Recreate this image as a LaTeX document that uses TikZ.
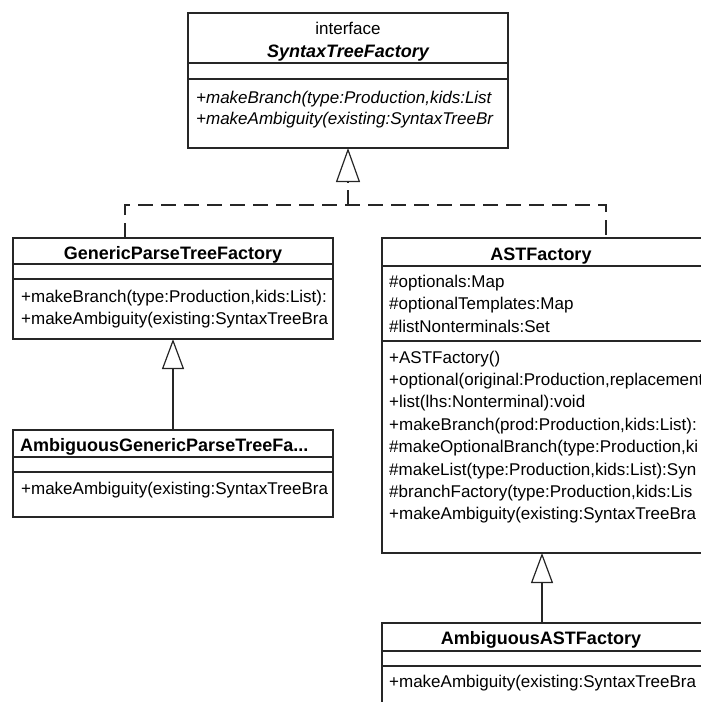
\documentclass[tikz,border=0pt]{standalone}
\usepackage{fontspec}
\setmainfont{Liberation Sans}
\usetikzlibrary{arrows.meta}
\newcommand{\umlsize}{\fontsize{17}{20}\selectfont}
\newcommand{\umltitle}{\fontsize{18}{21}\selectfont\bfseries}
\tikzset{
  classbox/.style={draw=black!85, line width=1.2pt, minimum width=320pt, inner sep=0pt, outer sep=0pt, anchor=north west},
  classname/.style={font=\umltitle, inner sep=0pt, anchor=base},
  member/.style={font=\umlsize, inner sep=0pt, anchor=base west},
  abstract/.style={font=\umlsize\itshape, inner sep=0pt, anchor=base west},
  compline/.style={draw=black!85, line width=1.2pt},
  dashline/.style={draw=black!85, line width=1.2pt, dash pattern=on 15pt off 8pt},
  realize/.style={dashline, -{Triangle[open,length=34pt,width=24pt]}},
  extends/.style={draw=black!85, line width=1.2pt, -{Triangle[open,length=30pt,width=22pt]}},
}
\begin{document}
\begin{tikzpicture}[x=1pt,y=-1pt]
  \useasboundingbox (0,0) rectangle (701,702);
  % interface
  \node[classbox, minimum height=135pt] (stf) at (188,13) {};
  \draw[compline] (stf.west |- 0,63) -- (stf.east |- 0,63);
  \draw[compline] (stf.west |- 0,79) -- (stf.east |- 0,79);
  \begin{scope}
    \clip (stf.north west) rectangle (stf.south east);
    \node[font=\umlsize, inner sep=0pt, anchor=base] at (348,34) {interface};
    \node[classname, font=\umltitle\itshape] at (348,57) {SyntaxTreeFactory};
    \node[abstract] at (196,103) {+makeBranch(type:Production,kids:List};
    \node[abstract] at (196,124) {+makeAmbiguity(existing:SyntaxTreeBr};
  \end{scope}
  % generic parse tree factory
  \node[classbox, minimum height=101pt] (gptf) at (13,238) {};
  \draw[compline] (gptf.west |- 0,264) -- (gptf.east |- 0,264);
  \draw[compline] (gptf.west |- 0,279) -- (gptf.east |- 0,279);
  \begin{scope}
    \clip (gptf.north west) rectangle (gptf.south east);
    \node[classname] at (gptf.north |- 0,259) {GenericParseTreeFactory};
    \node[member] at (21,302) {+makeBranch(type:Production,kids:List):};
    \node[member] at (21,324) {+makeAmbiguity(existing:SyntaxTreeBra};
  \end{scope}
  % AST factory
  \node[classbox, minimum height=315pt] (astf) at (382,238) {};
  \draw[compline] (astf.west |- 0,266) -- (astf.east |- 0,266);
  \draw[compline] (astf.west |- 0,341) -- (astf.east |- 0,341);
  \begin{scope}
    \clip (astf.north west) rectangle (astf.south east);
    \node[classname] at (541,260) {ASTFactory};
    \node[member] at (389,287) {\#optionals:Map};
    \node[member] at (389,309.5) {\#optionalTemplates:Map};
    \node[member] at (389,332) {\#listNonterminals:Set};
    \node[member] at (389,363) {+ASTFactory()};
    \node[member] at (389,385.4) {+optional(original:Production,replacement};
    \node[member] at (389,407.8) {+list(lhs:Nonterminal):void};
    \node[member] at (389,430.2) {+makeBranch(prod:Production,kids:List):};
    \node[member] at (389,452.6) {\#makeOptionalBranch(type:Production,ki};
    \node[member] at (389,475) {\#makeList(type:Production,kids:List):Syn};
    \node[member] at (389,497.4) {\#branchFactory(type:Production,kids:Lis};
    \node[member] at (389,519.8) {+makeAmbiguity(existing:SyntaxTreeBra};
  \end{scope}
  % ambiguous generic parse tree factory
  \node[classbox, minimum height=87pt] (agptf) at (13,430) {};
  \draw[compline] (agptf.west |- 0,457) -- (agptf.east |- 0,457);
  \draw[compline] (agptf.west |- 0,472) -- (agptf.east |- 0,472);
  \begin{scope}
    \clip (agptf.north west) rectangle (agptf.south east);
    \node[classname, anchor=base west] at (20,451) {AmbiguousGenericParseTreeFa...};
    \node[member] at (21,494) {+makeAmbiguity(existing:SyntaxTreeBra};
  \end{scope}
  % ambiguous AST factory
  \node[classbox, minimum height=117pt] (aastf) at (382,623) {};
  \draw[compline] (aastf.west |- 0,651) -- (aastf.east |- 0,651);
  \draw[compline] (aastf.west |- 0,666) -- (aastf.east |- 0,666);
  \begin{scope}
    \clip (aastf.north west) rectangle (aastf.south east);
    \node[classname] at (541,644) {AmbiguousASTFactory};
    \node[member] at (389,687) {+makeAmbiguity(existing:SyntaxTreeBra};
  \end{scope}
  % generalisations
  \coordinate (join) at (348,205);
  \draw[dashline] (gptf.north -| 125,0) |- (join) -| (astf.north -| 606,0);
  \draw[realize] (join) -- (stf.south);
  \draw[extends] (agptf.north) -- (gptf.south);
  \draw[extends] (aastf.north) -- (astf.south);
\end{tikzpicture}
\end{document}
